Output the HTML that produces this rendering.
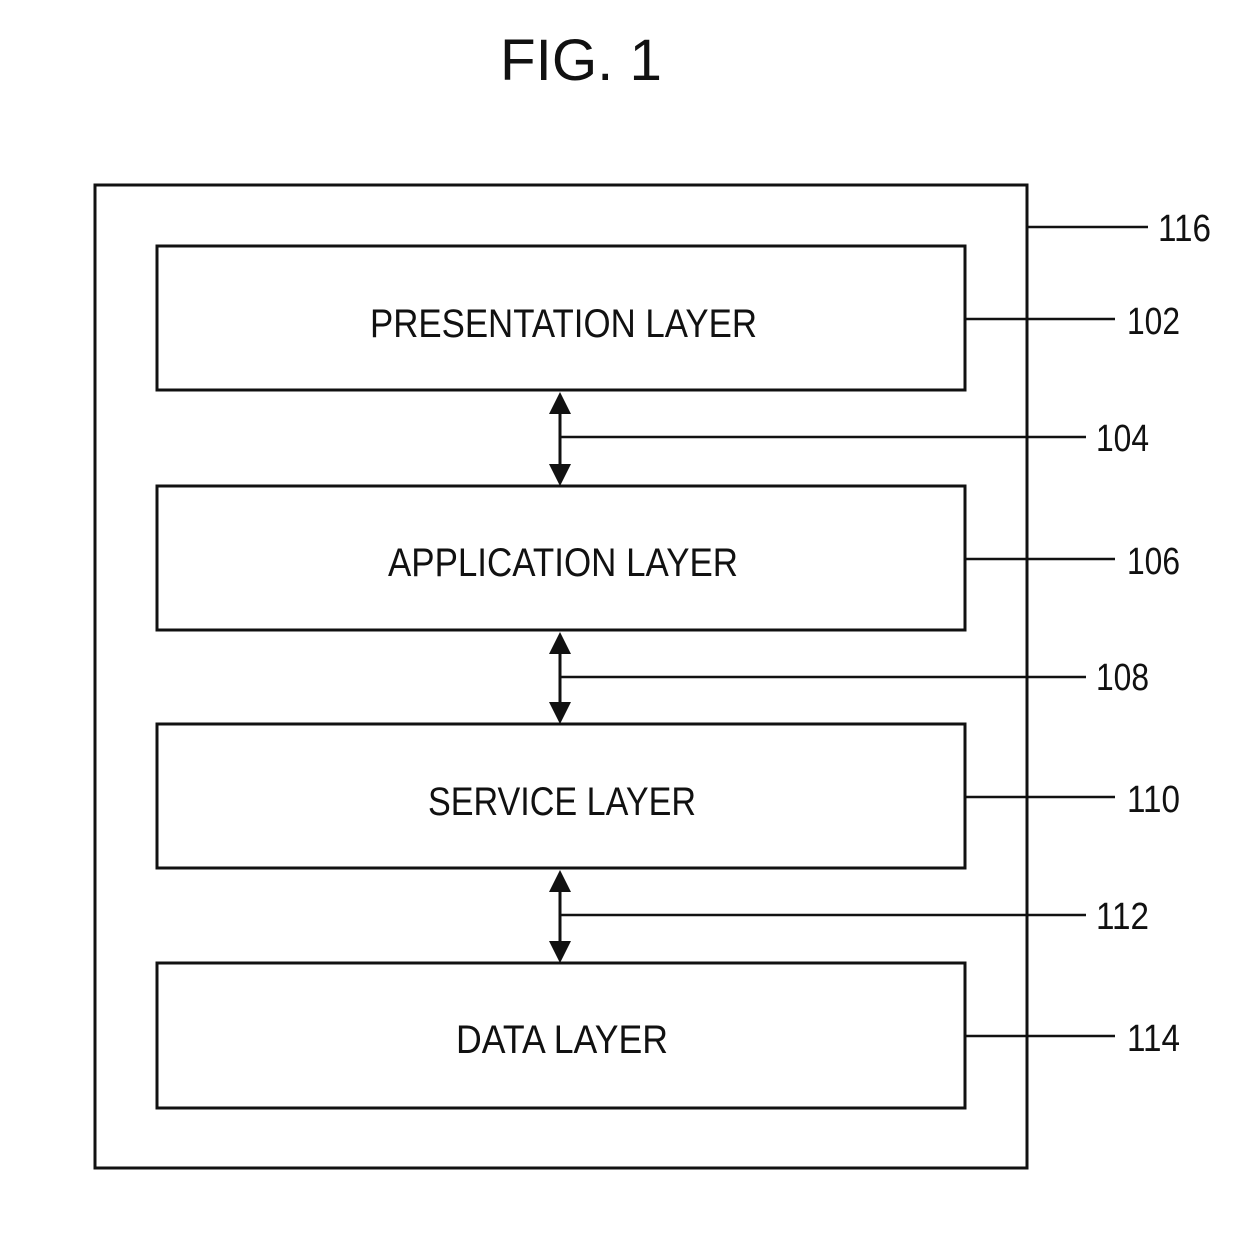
<!DOCTYPE html>
<html><head><meta charset="utf-8"><style>
html,body{margin:0;padding:0;background:#fff}
svg{display:block}
text{font-family:"Liberation Sans",sans-serif;fill:#111}
</style></head><body>
<svg width="1254" height="1254" viewBox="0 0 1254 1254">
<rect width="1254" height="1254" fill="#fff"/>
<text x="581" y="80" font-size="58" text-anchor="middle" textLength="162" lengthAdjust="spacingAndGlyphs">FIG. 1</text>
<g fill="none" stroke="#111" stroke-width="3">
<rect x="95" y="185" width="932" height="983"/>
<rect x="157" y="246" width="808" height="144"/>
<rect x="157" y="486" width="808" height="144"/>
<rect x="157" y="724" width="808" height="144"/>
<rect x="157" y="963" width="808" height="145"/>
</g>
<g stroke="#111" stroke-width="2.5">
<line x1="1027" y1="227" x2="1148" y2="227"/>
<line x1="965" y1="319" x2="1115" y2="319"/>
<line x1="965" y1="559" x2="1115" y2="559"/>
<line x1="965" y1="797" x2="1115" y2="797"/>
<line x1="965" y1="1036" x2="1115" y2="1036"/>
<line x1="560" y1="437" x2="1086" y2="437"/>
<line x1="560" y1="677" x2="1086" y2="677"/>
<line x1="560" y1="915" x2="1086" y2="915"/>
<line x1="560" y1="405" x2="560" y2="474" stroke-width="3"/>
<line x1="560" y1="645" x2="560" y2="712" stroke-width="3"/>
<line x1="560" y1="883" x2="560" y2="951" stroke-width="3"/>
</g>
<g fill="#111">
<polygon points="560,392 549,414 571,414"/>
<polygon points="560,486 549,464 571,464"/>
<polygon points="560,632 549,654 571,654"/>
<polygon points="560,724 549,702 571,702"/>
<polygon points="560,870 549,892 571,892"/>
<polygon points="560,963 549,941 571,941"/>
</g>
<g font-size="40">
<text x="370" y="337" textLength="387" lengthAdjust="spacingAndGlyphs">PRESENTATION LAYER</text>
<text x="388" y="576" textLength="350" lengthAdjust="spacingAndGlyphs">APPLICATION LAYER</text>
<text x="428" y="815" textLength="268" lengthAdjust="spacingAndGlyphs">SERVICE LAYER</text>
<text x="456" y="1053" textLength="212" lengthAdjust="spacingAndGlyphs">DATA LAYER</text>
</g>
<g font-size="38">
<text x="1158" y="241" textLength="53" lengthAdjust="spacingAndGlyphs">116</text>
<text x="1127" y="334" textLength="53" lengthAdjust="spacingAndGlyphs">102</text>
<text x="1096" y="451" textLength="53" lengthAdjust="spacingAndGlyphs">104</text>
<text x="1127" y="574" textLength="53" lengthAdjust="spacingAndGlyphs">106</text>
<text x="1096" y="690" textLength="53" lengthAdjust="spacingAndGlyphs">108</text>
<text x="1127" y="812" textLength="53" lengthAdjust="spacingAndGlyphs">110</text>
<text x="1096" y="929" textLength="53" lengthAdjust="spacingAndGlyphs">112</text>
<text x="1127" y="1051" textLength="53" lengthAdjust="spacingAndGlyphs">114</text>
</g>
</svg>
</body></html>
